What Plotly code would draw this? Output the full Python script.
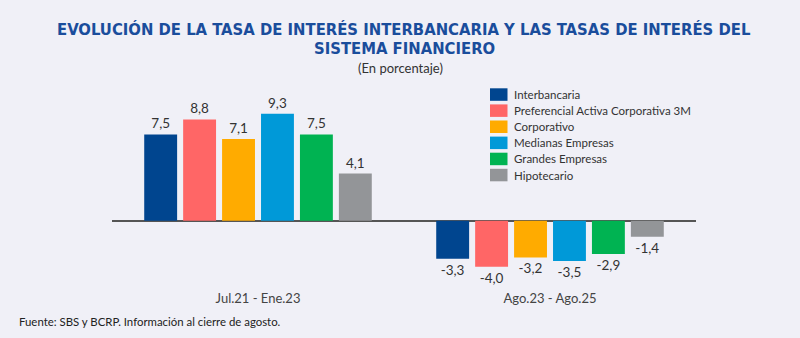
import plotly.graph_objects as go

categories = ["Jul.21 - Ene.23", "Ago.23 - Ago.25"]
series_names = ["Interbancaria", "Preferencial Activa Corporativa 3M", "Corporativo",
                "Medianas Empresas", "Grandes Empresas", "Hipotecario"]
interbancaria = [7.5, -3.3]
preferencial = [8.8, -4.0]
corporativo = [7.1, -3.2]
medianas = [9.3, -3.5]
grandes = [7.5, -2.9]
hipotecario = [4.1, -1.4]
series_values = [interbancaria, preferencial, corporativo, medianas, grandes, hipotecario]
colors = ["#00458f", "#ff6666", "#ffab00", "#0099d8", "#00b352", "#939598"]

title_lines = ["EVOLUCIÓN DE LA TASA DE INTERÉS INTERBANCARIA Y LAS TASAS DE INTERÉS DEL",
               "SISTEMA FINANCIERO"]
subtitle = "(En porcentaje)"
footer = "Fuente: SBS y BCRP. Información al cierre de agosto."

BG = "#f0f0f7"
W, H = 800, 338
L, R, T, B = 112, 104, 80, 52
PW, PH = W - L - R, H - T - B
body_font = "Lato"
title_font = "DejaVu Sans Condensed, Roboto"


def px(x):
    return (x - L) / PW


def py(y):
    return 1 - (y - T) / PH


fig = go.Figure()
for name, vals, col in zip(series_names, series_values, colors):
    fig.add_trace(go.Bar(
        x=categories, y=vals, name=name, marker=dict(color=col, line=dict(width=0)),
        text=[f"{v:.1f}".replace(".", ",") for v in vals],
        textposition="outside", cliponaxis=False,
        textfont=dict(family=body_font, size=13.5, color="#333333"),
        showlegend=False,
    ))

shapes = []
annotations = []
x0_px, sw_w, sw_h, row0, pitch = 490, 17.5, 12.5, 88.3, 16.1
for i, (name, col) in enumerate(zip(series_names, colors)):
    top = row0 + i * pitch
    shapes.append(dict(type="rect", xref="paper", yref="paper",
                       x0=px(x0_px), x1=px(x0_px + sw_w),
                       y0=py(top), y1=py(top + sw_h),
                       fillcolor=col, line=dict(width=0), layer="above"))
    annotations.append(dict(text=name, xref="paper", yref="paper",
                            x=px(x0_px + sw_w + 4), y=py(top + sw_h / 2),
                            xanchor="left", yanchor="middle", showarrow=False,
                            font=dict(family=body_font, size=11.5, color="#333333")))

for line, yc in zip(title_lines, [29.5, 48]):
    annotations.append(dict(text=line, xref="paper", yref="paper",
                            x=px(404), y=py(yc), xanchor="center", yanchor="middle",
                            showarrow=False,
                            font=dict(family=title_font, size=16.5, color="#1a4d9c", weight="bold")))

annotations.append(dict(text=subtitle, xref="paper", yref="paper",
                        x=px(400), y=py(68), xanchor="center", yanchor="middle",
                        showarrow=False, font=dict(family=body_font, size=13, color="#333333")))
annotations.append(dict(text=footer, xref="paper", yref="paper",
                        x=px(17), y=py(321.5), xanchor="left", yanchor="middle",
                        showarrow=False, font=dict(family=body_font, size=11.4, color="#222222")))

fig.update_layout(
    width=W, height=H,
    paper_bgcolor=BG, plot_bgcolor=BG,
    margin=dict(l=L, r=R, t=T, b=B),
    barmode="group", bargap=0.2, bargroupgap=0.155,
    xaxis=dict(showgrid=False, showline=False, ticks="", ticklabelstandoff=3,
               tickfont=dict(family=body_font, size=13, color="#444444")),
    yaxis=dict(range=[-5.68, 12.23], showgrid=False, showticklabels=False,
               zeroline=True, zerolinecolor="#555555", zerolinewidth=1.5),
    shapes=shapes, annotations=annotations,
)

fig.write_html("out.html")
